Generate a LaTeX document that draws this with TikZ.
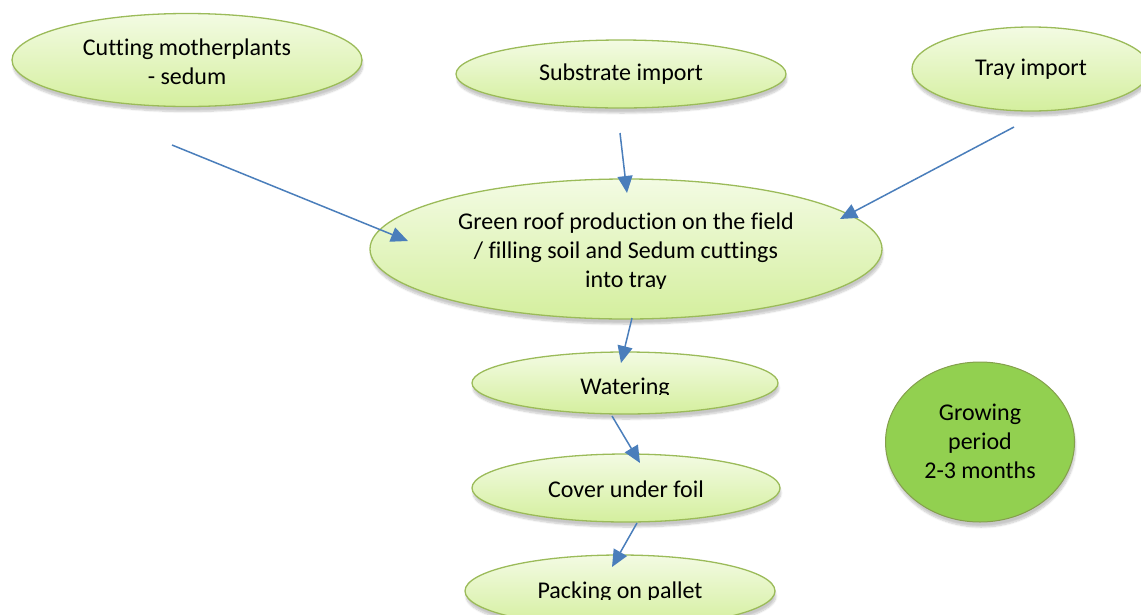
\documentclass[tikz,border=0pt]{standalone}
\usepackage{fontspec}
\setmainfont[Ligatures=NoCommon]{Carlito}
\usetikzlibrary{shapes.geometric,arrows.meta,shadows.blur}
\definecolor{edgegreen}{HTML}{9BBB59}
\definecolor{topgreen}{HTML}{F3FBE3}
\definecolor{botgreen}{HTML}{D4EF9E}
\definecolor{solidgreen}{HTML}{92D050}
\definecolor{arrowblue}{HTML}{4A7EBB}
\tikzset{
  x=1pt,y=-1pt,
  softshadow/.style={blur shadow={shadow blur steps=8, shadow xshift=1pt, shadow yshift=-5pt, shadow opacity=22}},
  stage/.style={ellipse, draw=edgegreen, line width=1.3pt, top color=topgreen, bottom color=botgreen,
    inner sep=0pt, softshadow},
  label text/.style={align=center, inner sep=0pt, font=\fontsize{24}{29}\selectfont},
  flow/.style={draw=arrowblue, line width=1.5pt, -{Triangle[length=17pt,width=15pt]}}
}
\begin{document}
\begin{tikzpicture}
\useasboundingbox (0,0) rectangle (1141,614);
\begin{scope}
\clip (0,0) rectangle (1141,614);
\node[stage, minimum width=350pt, minimum height=93pt] (cut) at (187,60) {};
\node[label text] (cutt) at (187,62) {Cutting motherplants\\- sedum};
\node[stage, minimum width=330pt, minimum height=68pt] (sub) at (621,74) {};
\node[label text] (subt) at (621,74) {Substrate import};
\node[stage, minimum width=238pt, minimum height=84pt] (tray) at (1031,69) {};
\node[label text] (trayt) at (1031,69) {Tray import};
\node[stage, minimum width=512pt, minimum height=140pt] (main) at (626,249) {};
\begin{scope}
\clip (380,180) rectangle (870,288.5);
\node[label text] (maint) at (626,252) {Green roof production on the field\\/ filling soil and Sedum cuttings\\into tray};
\end{scope}
\node[stage, minimum width=306pt, minimum height=62pt] (wat) at (625,383) {};
\begin{scope}
\clip (480,360) rectangle (770,394.5);
\node[label text] (watt) at (625,388) {Watering};
\end{scope}
\node[stage, minimum width=308pt, minimum height=68pt] (cov) at (626,488) {};
\node[label text] (covt) at (626,489) {Cover under foil};
\node[stage, minimum width=310pt, minimum height=72pt] (pack) at (620,591) {};
\begin{scope}
\clip (480,560) rectangle (770,599.5);
\node[label text] (packt) at (620,592) {Packing on pallet};
\end{scope}
\node[ellipse, draw=edgegreen!85!black, line width=1pt, fill=solidgreen, minimum width=189pt, minimum height=160pt,
  softshadow] (grow) at (980,442) {};
\node[label text] (growt) at (980,441) {Growing\\period\\2-3 months};
\end{scope}
\coordinate (c1) at (172,145);
\coordinate (c2) at (620,133);
\coordinate (c3) at (1014,127);
\coordinate (e1) at (408,241);
\coordinate (e2) at (627,193);
\coordinate (e3) at (840,219);
\coordinate (m1) at (632,318);
\coordinate (w1) at (621,363);
\coordinate (w2) at (612,416);
\coordinate (v1) at (640,463);
\coordinate (v2) at (637,523);
\coordinate (p1) at (612,567);
\draw[flow] (c1) -- (e1);
\draw[flow] (c2) -- (e2);
\draw[flow] (c3) -- (e3);
\draw[flow] (m1) -- (w1);
\draw[flow] (w2) -- (v1);
\draw[flow] (v2) -- (p1);
\end{tikzpicture}
\end{document}
